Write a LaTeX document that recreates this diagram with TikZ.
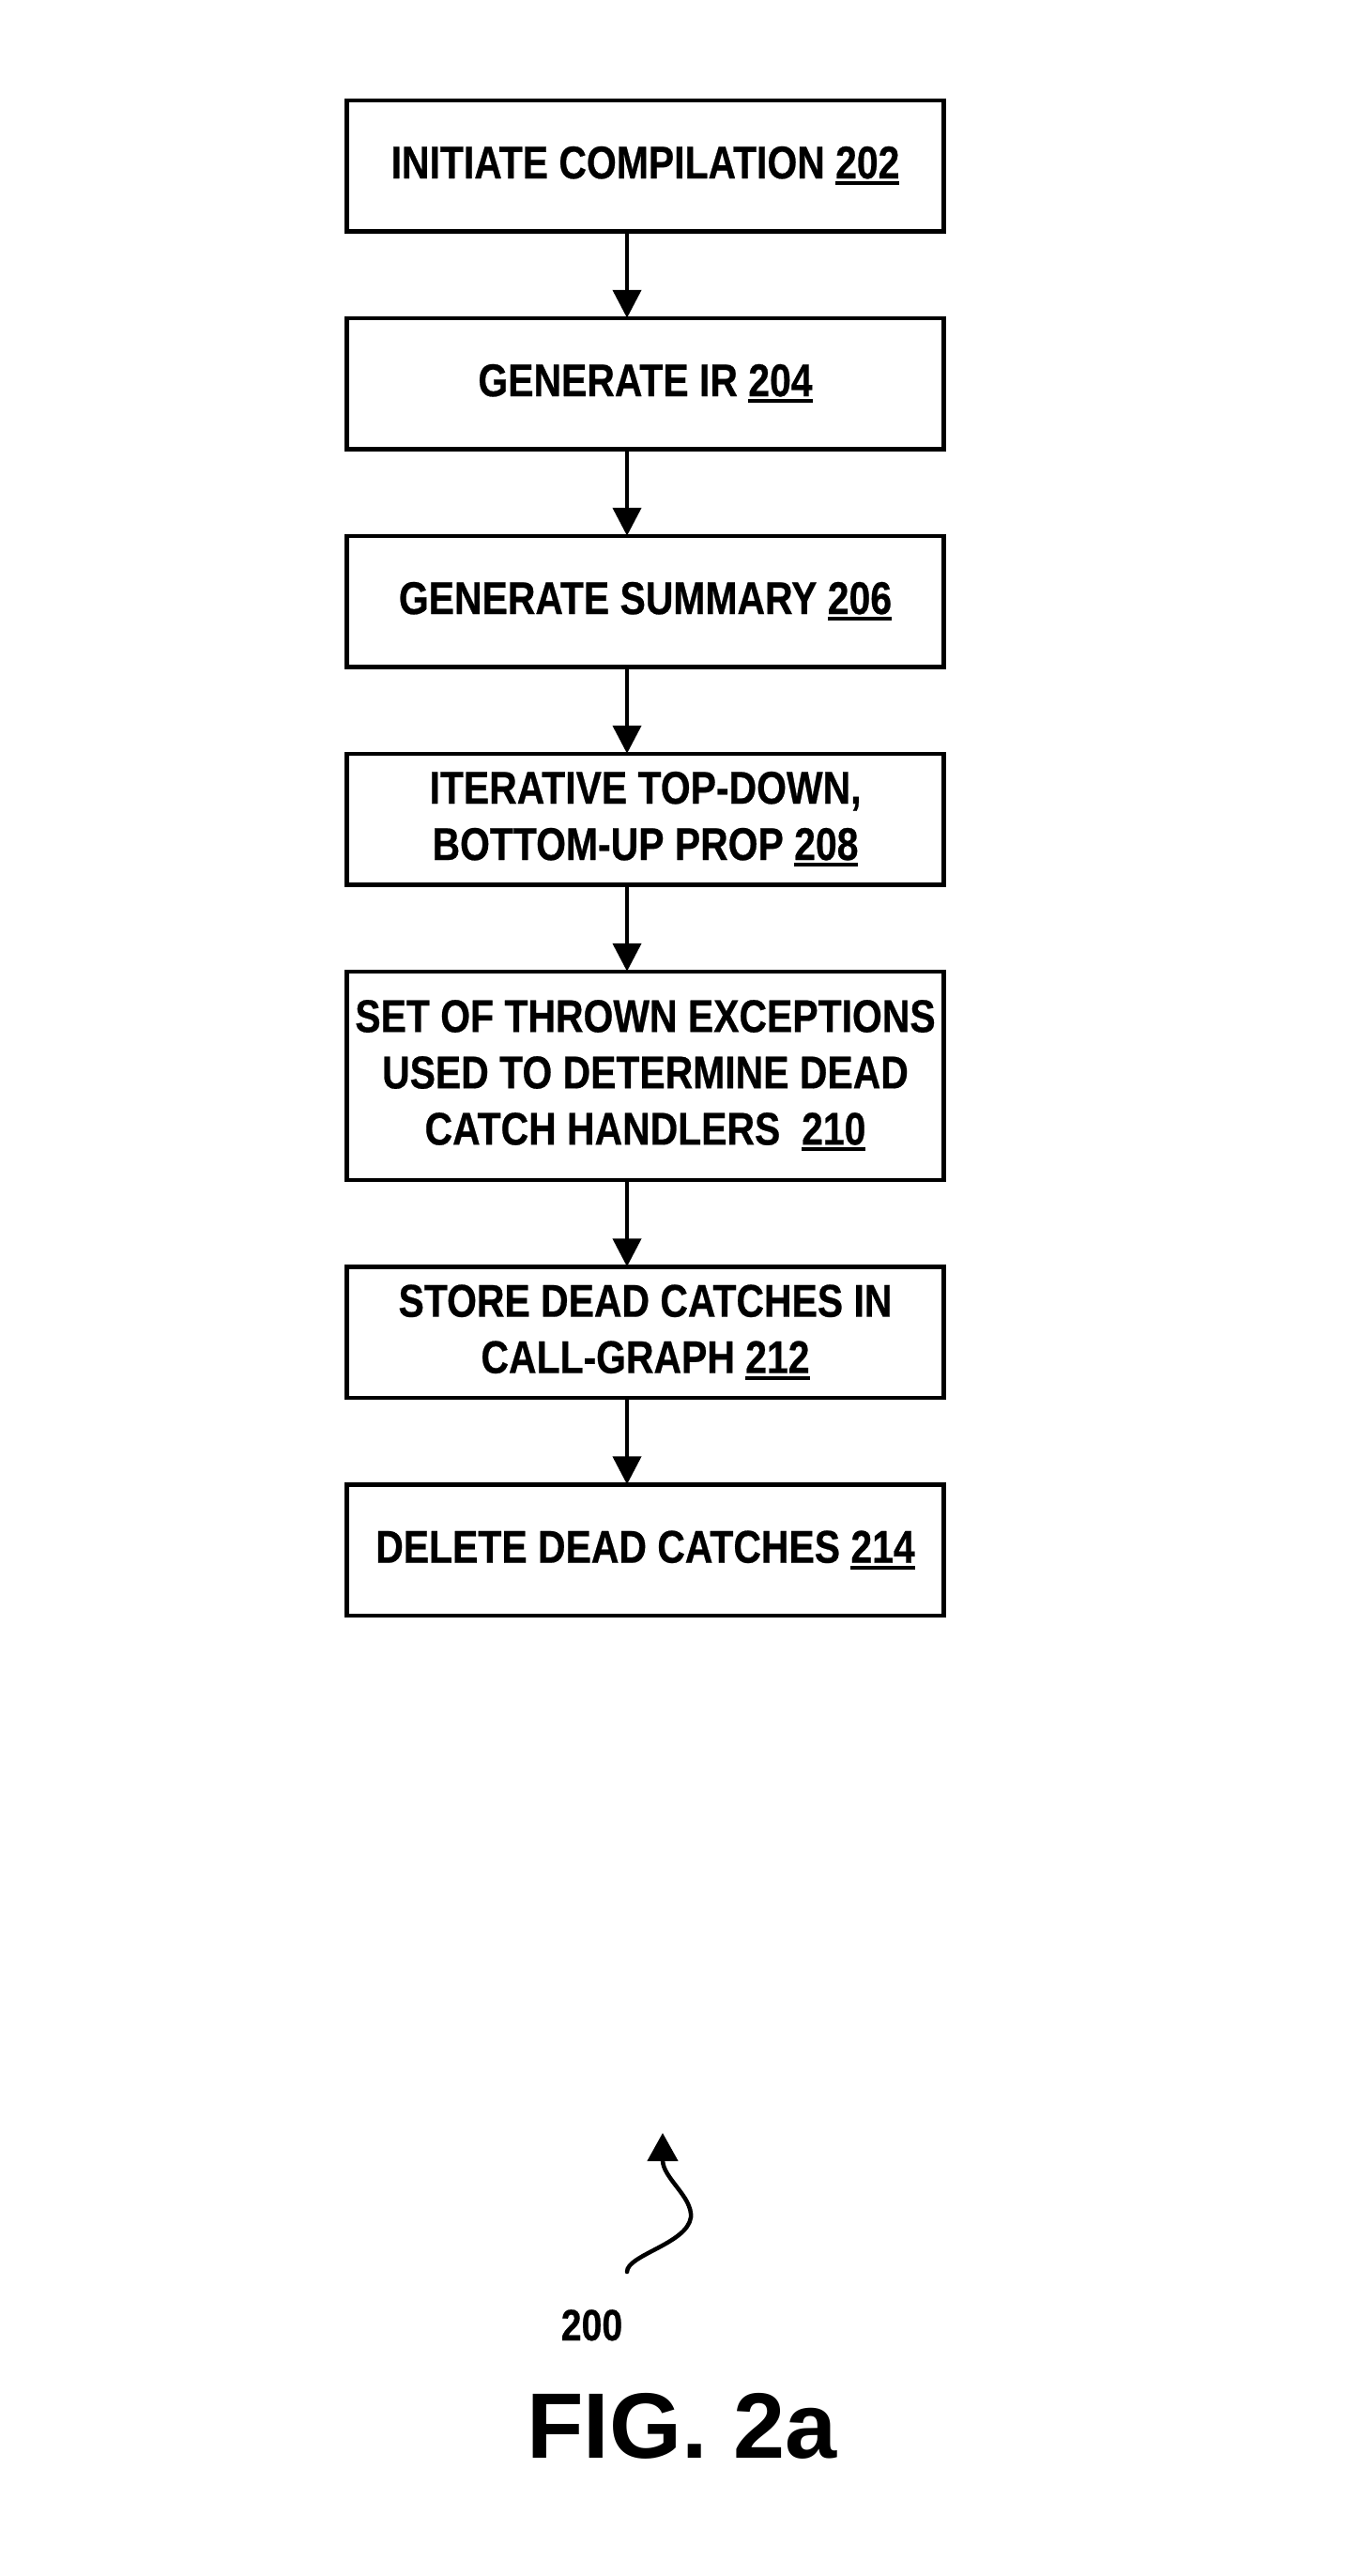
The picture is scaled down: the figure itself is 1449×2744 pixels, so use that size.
\documentclass[tikz,border=0pt]{standalone}
\usepackage{fontspec}
\setmainfont{Liberation Sans}
\newfontfamily\narrowfont{Liberation Sans}[FakeStretch=0.835,FakeBold=0.5]
\usetikzlibrary{arrows.meta,positioning}
\newcommand\refnum[1]{\setbox0=\hbox{#1}\rlap{\rule[-7pt]{\wd0}{4pt}}\box0}

\begin{document}
\begin{tikzpicture}[x=1pt,y=-1pt,node distance=92.5pt,
	stepbox/.style={draw,rectangle,line width=4.5pt,minimum width=636pt,minimum height=139.5pt,
		inner sep=0pt,outer sep=0pt,align=center,font=\narrowfont\bfseries\fontsize{49}{60}\selectfont},
	flow/.style={line width=4.5pt,-{Triangle[length=30pt,width=30pt]}}]
	\useasboundingbox (0,0) rectangle (1449,2744);
	\node[stepbox] (init) at (687.5,176.5) {INITIATE COMPILATION \refnum{202}};
	\node[stepbox,below=of init] (genir) {GENERATE IR \refnum{204}};
	\node[stepbox,below=of genir] (summary) {GENERATE SUMMARY \refnum{206}};
	\node[stepbox,below=of summary] (prop) {ITERATIVE TOP-DOWN,\\BOTTOM-UP PROP \refnum{208}};
	\node[stepbox,below=of prop,minimum height=222pt] (thrown) {SET OF THROWN EXCEPTIONS\\USED TO DETERMINE DEAD\\CATCH HANDLERS\ \ \refnum{210}};
	\node[stepbox,below=of thrown] (store) {STORE DEAD CATCHES IN\\CALL-GRAPH \refnum{212}};
	\node[stepbox,below=of store] (delete) {DELETE DEAD CATCHES \refnum{214}};
	\coordinate (spine) at (668,0);
	\foreach \a/\b in {init/genir,genir/summary,summary/prop,prop/thrown,thrown/store,store/delete}
	{
		\draw[flow] (\a.south -| spine) -- (\b.north -| spine);
	}
	\coordinate (tail) at (668,2420);
	\coordinate (head) at (706,2272);
	\draw[line width=4.5pt,line cap=round,-{Triangle[length=30pt,width=32pt]}] (tail)
		.. controls (668,2402) and (732,2390) .. (736,2362)
		.. controls (738,2340) and (706,2320) .. (head);
	\node[anchor=base,font=\narrowfont\bfseries\fontsize{47}{56}\selectfont] (ref) at (630.5,2493) {200};
	\node[anchor=base,font=\bfseries\fontsize{99}{118}\selectfont] (fig) at (726.5,2618) {FIG. 2a};
\end{tikzpicture}
\end{document}
